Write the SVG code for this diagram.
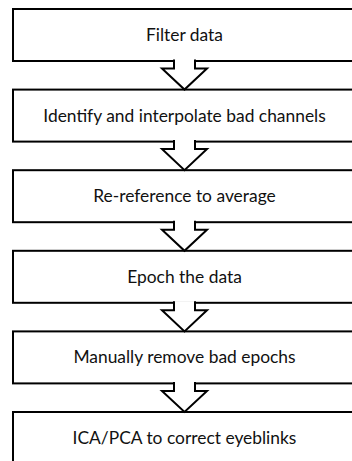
<svg xmlns="http://www.w3.org/2000/svg" width="352" height="461" viewBox="0 0 352 461">
  <style>
    .box { fill: #ffffff; stroke: #000000; stroke-width: 2; }
    .arrow { fill: #ffffff; stroke: #000000; stroke-width: 2; stroke-linejoin: miter; }
    .label { font-family: Lato, "Open Sans", "Liberation Sans", sans-serif; font-size: 17.4px; fill: #111111; text-anchor: middle; }
  </style>
  <rect width="352" height="461" fill="#ffffff"/>

  <g id="step1">
    <rect class="box" x="13" y="9" width="345" height="52"/>
    <text class="label" x="184.5" y="41">Filter data</text>
  </g>
  <g id="step2">
    <rect class="box" x="13" y="89.6" width="345" height="52"/>
    <text class="label" x="184.5" y="121.6">Identify and interpolate bad channels</text>
  </g>
  <g id="step3">
    <rect class="box" x="13" y="170.2" width="345" height="52"/>
    <text class="label" x="184.5" y="202.2">Re-reference to average</text>
  </g>
  <g id="step4">
    <rect class="box" x="13" y="250.8" width="345" height="52"/>
    <text class="label" x="184.5" y="282.8">Epoch the data</text>
  </g>
  <g id="step5">
    <rect class="box" x="13" y="331.4" width="345" height="52"/>
    <text class="label" x="184.5" y="363.4">Manually remove bad epochs</text>
  </g>
  <g id="step6">
    <rect class="box" x="13" y="412" width="345" height="52"/>
    <text class="label" x="184.5" y="444">ICA/PCA to correct eyeblinks</text>
  </g>

  <g id="connectors">
    <path class="arrow" d="M174,59.5 V68.5 H162 L184.5,89.6 L207,68.5 H195 V59.5"/>
    <path class="arrow" d="M174,140.1 V149.1 H162 L184.5,170.2 L207,149.1 H195 V140.1"/>
    <path class="arrow" d="M174,220.7 V229.7 H162 L184.5,250.8 L207,229.7 H195 V220.7"/>
    <path class="arrow" d="M174,301.3 V310.3 H162 L184.5,331.4 L207,310.3 H195 V301.3"/>
    <path class="arrow" d="M174,381.9 V390.9 H162 L184.5,412 L207,390.9 H195 V381.9"/>
  </g>
</svg>
